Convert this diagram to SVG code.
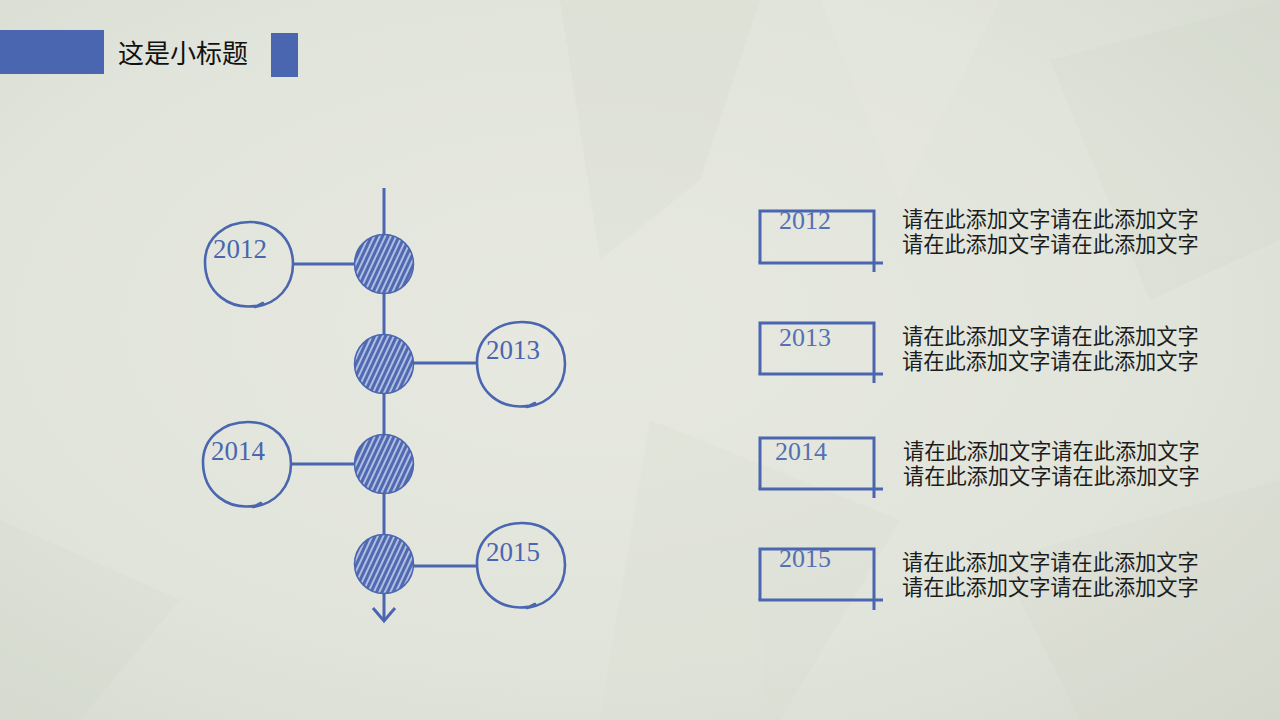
<svg xmlns="http://www.w3.org/2000/svg" xmlns:xlink="http://www.w3.org/1999/xlink" width="1280" height="720" viewBox="0 0 1280 720">
<style>
.bar{fill:#4a66b0}
.ln{stroke:#4a66b0;stroke-width:3;fill:none}
.sk{stroke:#4a66b0;stroke-width:2.6;fill:none;stroke-linecap:round;stroke-linejoin:round}
.dot{fill:url(#hatch);stroke:#4a66b0;stroke-width:1.5}
.yr{font-family:"Liberation Serif","Times New Roman",serif;font-size:27px;fill:#4a66b0}
.yr2{font-family:"Liberation Serif","Times New Roman",serif;font-size:26px;fill:#5670b4}
.cn{font-family:"Noto Sans CJK SC","Noto Sans",sans-serif;font-size:21.2px;fill:#1c1c1c}
.title{font-family:"Noto Sans CJK SC","Noto Sans",sans-serif;font-size:26px;fill:#111}
</style>
<defs>
<radialGradient id="bg" cx="0.45" cy="0.45" r="0.8">
<stop offset="0" stop-color="#e7e9e0"/>
<stop offset="0.6" stop-color="#e1e4da"/>
<stop offset="1" stop-color="#d4d8cd"/>
</radialGradient>
<pattern id="hatch" patternUnits="userSpaceOnUse" width="5" height="5" patternTransform="rotate(25)">
<rect width="5" height="5" fill="#aebde0"/>
<rect width="3" height="5" fill="#5069b0"/>
</pattern>
<path id="sketch" d="M 12,41 C -20,48 -44,28 -44,-2 C -44,-26 -24,-42 1,-42 C 27,-42 44,-24 44,0 C 44,23 28,40 6,43 L 14,39"/>
</defs>
<rect width="1280" height="720" fill="url(#bg)"/>
<g opacity="0.18">
<polygon points="560,0 760,0 700,180 600,260" fill="#cfd3c7"/>
<polygon points="820,0 1000,0 900,200" fill="#f0f1ea"/>
<polygon points="1050,60 1280,0 1280,240 1150,300" fill="#cdd1c5"/>
<polygon points="0,520 180,600 80,720 0,720" fill="#cdd1c5"/>
<polygon points="650,420 900,520 780,720 600,720" fill="#d3d7cc"/>
<polygon points="1000,560 1280,480 1280,720 1080,720" fill="#d0d4c8"/>
</g>
<g id="header">
<rect class="bar" x="0" y="30" width="104" height="44"/>
<text class="title" x="118" y="63">这是小标题</text>
<rect class="bar" x="271" y="33" width="27" height="44"/>
</g>
<g id="connectors">
<line class="ln" x1="384" y1="188" x2="384" y2="620"/>
<polyline class="ln" points="373,608 384,621 395,608"/>
<line class="ln" x1="292" y1="264" x2="354" y2="264"/>
<line class="ln" x1="413" y1="363" x2="477" y2="363"/>
<line class="ln" x1="290" y1="464" x2="354" y2="464"/>
<line class="ln" x1="413" y1="566" x2="477" y2="566"/>
</g>
<g id="node-2012">
<circle class="dot" cx="384" cy="264" r="29.5"/>
<use xlink:href="#sketch" class="sk" x="249" y="264"/>
<text class="yr" x="213" y="258">2012</text>
</g>
<g id="node-2013">
<circle class="dot" cx="384" cy="364" r="29.5"/>
<use xlink:href="#sketch" class="sk" x="521" y="364"/>
<text class="yr" x="486" y="359">2013</text>
</g>
<g id="node-2014">
<circle class="dot" cx="384" cy="464" r="29.5"/>
<use xlink:href="#sketch" class="sk" x="247" y="464"/>
<text class="yr" x="211" y="460">2014</text>
</g>
<g id="node-2015">
<circle class="dot" cx="384" cy="564" r="29.5"/>
<use xlink:href="#sketch" class="sk" x="521" y="565"/>
<text class="yr" x="486" y="561">2015</text>
</g>
<g id="item-2012">
<polyline class="ln" points="760,263 760,211 874,211 874,272"/>
<line class="ln" x1="758.5" y1="263" x2="883" y2="263"/>
<text class="yr2" x="779" y="229">2012</text>
<text class="cn"><tspan x="902" y="227">请在此添加文字请在此添加文字</tspan><tspan x="902" y="252">请在此添加文字请在此添加文字</tspan></text>
</g>
<g id="item-2013">
<polyline class="ln" points="760,374 760,323 874,323 874,383"/>
<line class="ln" x1="758.5" y1="374" x2="883" y2="374"/>
<text class="yr2" x="779" y="346">2013</text>
<text class="cn"><tspan x="902" y="344">请在此添加文字请在此添加文字</tspan><tspan x="902" y="369">请在此添加文字请在此添加文字</tspan></text>
</g>
<g id="item-2014">
<polyline class="ln" points="760,489 760,438 874,438 874,498"/>
<line class="ln" x1="758.5" y1="489" x2="883" y2="489"/>
<text class="yr2" x="775" y="460">2014</text>
<text class="cn"><tspan x="903" y="459">请在此添加文字请在此添加文字</tspan><tspan x="903" y="484">请在此添加文字请在此添加文字</tspan></text>
</g>
<g id="item-2015">
<polyline class="ln" points="760,600 760,549 874,549 874,610"/>
<line class="ln" x1="758.5" y1="600" x2="883" y2="600"/>
<text class="yr2" x="779" y="567">2015</text>
<text class="cn"><tspan x="902" y="570">请在此添加文字请在此添加文字</tspan><tspan x="902" y="595">请在此添加文字请在此添加文字</tspan></text>
</g>
</svg>
